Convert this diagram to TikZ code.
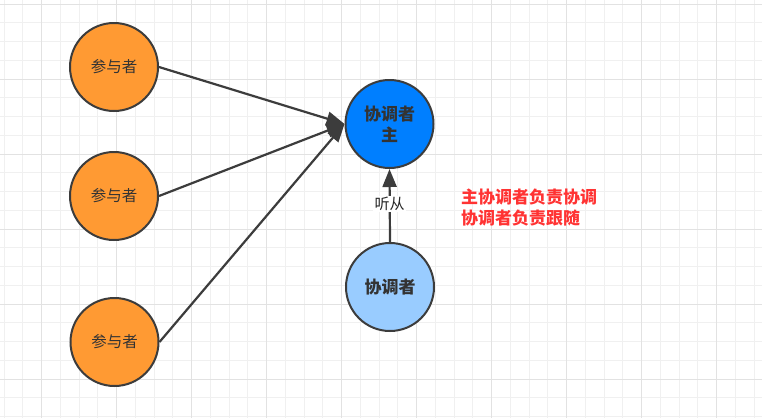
\documentclass[tikz,border=0pt]{standalone}
\usepackage{fontspec}
\newfontfamily\cjk{Noto Sans CJK SC}
\usetikzlibrary{arrows.meta}
\definecolor{orangefill}{HTML}{FF9A33}
\definecolor{bluefill}{HTML}{007FFF}
\definecolor{lightbluefill}{HTML}{99CCFF}
\definecolor{strokegray}{HTML}{3C3C3C}
\definecolor{textgray}{HTML}{333333}
\definecolor{redtext}{HTML}{FF3333}
\definecolor{gridminor}{HTML}{F0F0F0}
\definecolor{gridmajor}{HTML}{E2E2E2}
\tikzset{
  circ/.style={circle, draw=strokegray, line width=2pt, minimum size=88pt, inner sep=0pt, text=textgray, font=\cjk},
  participant/.style={circ, fill=orangefill, font=\cjk\fontsize{15.5}{20}\selectfont},
  master/.style={circ, fill=bluefill, font=\cjk\bfseries\fontsize{17}{21}\selectfont, align=center},
  follower/.style={circ, fill=lightbluefill, font=\cjk\bfseries\fontsize{17}{21}\selectfont},
  conn/.style={draw=strokegray, line width=2.2pt, -{Triangle[length=18pt,width=14pt]}, color=strokegray},
  lbl/.style={fill=white, inner sep=1.5pt, text=black!85, font=\cjk\fontsize{15}{18}\selectfont},
  note/.style={text=redtext, font=\cjk\bfseries\fontsize{17}{21}\selectfont, align=left, inner sep=0pt}
}
\begin{document}
\begin{tikzpicture}[x=1pt,y=-1pt]
\useasboundingbox (0,0) rectangle (762,418);
\fill[white] (0,0) rectangle (762,418);
% grid
\foreach \i in {0,...,41} {
  \draw[gridminor, line width=1pt] ({4+18.75*\i},0) -- ({4+18.75*\i},418);
}
\foreach \i in {0,...,22} {
  \draw[gridminor, line width=1pt] (0,{4+18.75*\i}) -- (762,{4+18.75*\i});
}
\foreach \i in {0,...,10} {
  \draw[gridmajor, line width=1pt] ({41.5+75*\i},0) -- ({41.5+75*\i},418);
}
\foreach \i in {0,...,5} {
  \draw[gridmajor, line width=1pt] (0,{4+75*\i}) -- (762,{4+75*\i});
}
\node[participant] (p1) at (114,67) {参与者};
\node[participant] (p2) at (114,196) {参与者};
\node[participant] (p3) at (114.5,342) {参与者};
\node[master] (m) at (389.5,124) {协调者\\主};
\node[follower] (f) at (390,287) {协调者};
\draw[conn] (p1.east) -- (m.west);
\draw[conn] (p2.east) -- (m.west);
\draw[conn] (p3.east) -- (m.west);
\draw[conn] (f.north) -- node[lbl, pos=0.52] (l) {听从} (m.south);
\node[note, anchor=north west] (n) at (461,189) {主协调者负责协调\\协调者负责跟随};
\end{tikzpicture}
\end{document}
